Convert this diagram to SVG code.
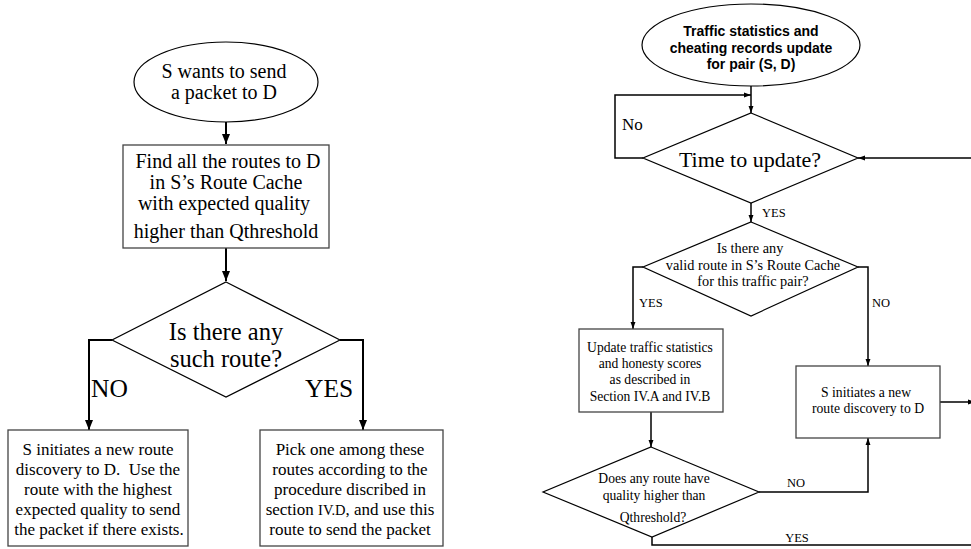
<svg xmlns="http://www.w3.org/2000/svg" width="971" height="549" viewBox="0 0 971 549">
<defs>
<marker id="ahL" markerUnits="userSpaceOnUse" markerWidth="10" markerHeight="10" viewBox="0 0 10 10" refX="10" refY="5" orient="auto">
<path d="M0,1 L10,5 L0,9 Z" fill="#000"/>
</marker>
<marker id="ahR" markerUnits="userSpaceOnUse" markerWidth="7" markerHeight="7" viewBox="0 0 10 10" refX="10" refY="5" orient="auto">
<path d="M0,1.5 L10,5 L0,8.5 Z" fill="#000"/>
</marker>
<style>
.shp{fill:#fff;stroke:#000;stroke-width:1.2}
.shpL{fill:#fff;stroke:#444;stroke-width:1.3}
.cL{fill:none;stroke:#000;stroke-width:2}
.cR{fill:none;stroke:#000;stroke-width:1.5}
.serif{font-family:"Liberation Serif","Times New Roman",serif;fill:#000}
.sansb{font-family:"Liberation Sans",Arial,sans-serif;font-weight:bold;fill:#000}
</style>
</defs>
<rect width="971" height="549" fill="#fff"/>

<!-- connectors -->
<g id="connectors">
<path class="cL" d="M226,122 V144" marker-end="url(#ahL)"/>
<path class="cL" d="M226,248 V281" marker-end="url(#ahL)"/>
<path class="cL" d="M112,340 H89 V430" marker-end="url(#ahL)"/>
<path class="cL" d="M340,340 H363 V430" marker-end="url(#ahL)"/>

<path class="cR" d="M751,86 V113" marker-end="url(#ahR)"/>
<path class="cR" d="M643,158 H615 V95 H751" marker-end="url(#ahR)"/>
<path class="cR" d="M971,158 H858" marker-end="url(#ahR)"/>
<path class="cR" d="M751,203 V222" marker-end="url(#ahR)"/>
<path class="cR" d="M643,267 H633 V329" marker-end="url(#ahR)"/>
<path class="cR" d="M858,267 H868 V366" marker-end="url(#ahR)"/>
<path class="cR" d="M651,412 V447" marker-end="url(#ahR)"/>
<path class="cR" d="M759,492 H868 V438" marker-end="url(#ahR)"/>
<path class="cR" d="M940,402 H975" marker-end="url(#ahR)"/>
<path class="cR" d="M652,537 V545 H971"/>
</g>

<!-- connector labels -->
<g id="labels">
<text class="serif" x="91" y="397" font-size="25.5">NO</text>
<text class="serif" x="305" y="397" font-size="25.5">YES</text>
<text class="serif" x="622" y="130" font-size="17">No</text>
<text class="serif" x="762" y="217" font-size="12.5">YES</text>
<text class="serif" x="639" y="307" font-size="12.5">YES</text>
<text class="serif" x="872" y="307" font-size="12.5">NO</text>
<text class="serif" x="787" y="487" font-size="12.5">NO</text>
<text class="serif" x="797" y="542" font-size="12.5" text-anchor="middle">YES</text>
</g>

<!-- left flowchart -->
<g id="start-left">
<ellipse class="shp" cx="226" cy="82" rx="92" ry="40"/>
<text class="serif" font-size="20" text-anchor="middle"><tspan x="224" y="78">S wants to send</tspan><tspan x="224" y="99">a packet to D</tspan></text>
</g>
<g id="find-routes">
<rect class="shpL" x="123" y="145" width="206" height="103"/>
<text class="serif" font-size="20" text-anchor="middle"><tspan x="228" y="168">Find all the routes to D</tspan><tspan x="226" y="189">in S’s Route Cache</tspan><tspan x="224" y="210">with expected quality</tspan><tspan x="226" y="238">higher than Qthreshold</tspan></text>
</g>
<g id="any-route">
<path class="shp" d="M226,282 L340,340 L226,397 L112,340 Z"/>
<text class="serif" font-size="24.5" text-anchor="middle"><tspan x="226" y="340">Is there any</tspan><tspan x="226" y="367">such route?</tspan></text>
</g>
<g id="new-discovery-left">
<rect class="shpL" x="8" y="430" width="180" height="116"/>
<text class="serif" font-size="17" text-anchor="middle"><tspan x="98" y="455">S initiates a new route</tspan><tspan x="98" y="475">discovery to D.&#160; Use the</tspan><tspan x="98" y="495">route with the highest</tspan><tspan x="98" y="515">expected quality to send</tspan><tspan x="99" y="535">the packet if there exists.</tspan></text>
</g>
<g id="pick-route">
<rect class="shpL" x="260" y="430" width="183" height="116"/>
<text class="serif" font-size="17" text-anchor="middle"><tspan x="350" y="455">Pick one among these</tspan><tspan x="350" y="475">routes according to the</tspan><tspan x="350" y="495">procedure discribed in</tspan><tspan x="350" y="515">section <tspan font-size="14.5">IV.D</tspan>, and use this</tspan><tspan x="350" y="535">route to send the packet</tspan></text>
</g>

<!-- right flowchart -->
<g id="start-right">
<ellipse class="shp" cx="751" cy="45" rx="109" ry="41"/>
<text class="sansb" font-size="14" text-anchor="middle"><tspan x="751" y="36">Traffic statistics and</tspan><tspan x="751" y="53">cheating records update</tspan><tspan x="751" y="69">for pair (S, D)</tspan></text>
</g>
<g id="time-to-update">
<path class="shp" d="M751,113 L858,158 L751,203 L643,158 Z"/>
<text class="serif" font-size="22" text-anchor="middle" x="750" y="167">Time to update?</text>
</g>
<g id="valid-route">
<path class="shp" d="M751,222 L858,267 L751,316 L643,267 Z"/>
<text class="serif" font-size="14.3" text-anchor="middle"><tspan x="750" y="253">Is there any</tspan><tspan x="753" y="270">valid route in S’s Route Cache</tspan><tspan x="753" y="286">for this traffic pair?</tspan></text>
</g>
<g id="update-stats">
<rect class="shpL" x="579" y="329" width="144" height="83"/>
<text class="serif" font-size="13.6" text-anchor="middle"><tspan x="650" y="352">Update traffic statistics</tspan><tspan x="650" y="368">and honesty scores</tspan><tspan x="650" y="384">as described in</tspan><tspan x="650" y="401">Section IV.A and IV.B</tspan></text>
</g>
<g id="new-discovery-right">
<rect class="shpL" x="796" y="366" width="144" height="72"/>
<text class="serif" font-size="13.7" text-anchor="middle"><tspan x="866" y="397">S initiates a new</tspan><tspan x="868" y="413">route discovery to D</tspan></text>
</g>
<g id="quality-check">
<path class="shp" d="M651,447 L759,492 L652,537 L543,492 Z"/>
<text class="serif" font-size="13.6" text-anchor="middle"><tspan x="654" y="483">Does any route have</tspan><tspan x="654" y="500">quality higher than</tspan><tspan x="653" y="522">Qthreshold?</tspan></text>
</g>
</svg>
